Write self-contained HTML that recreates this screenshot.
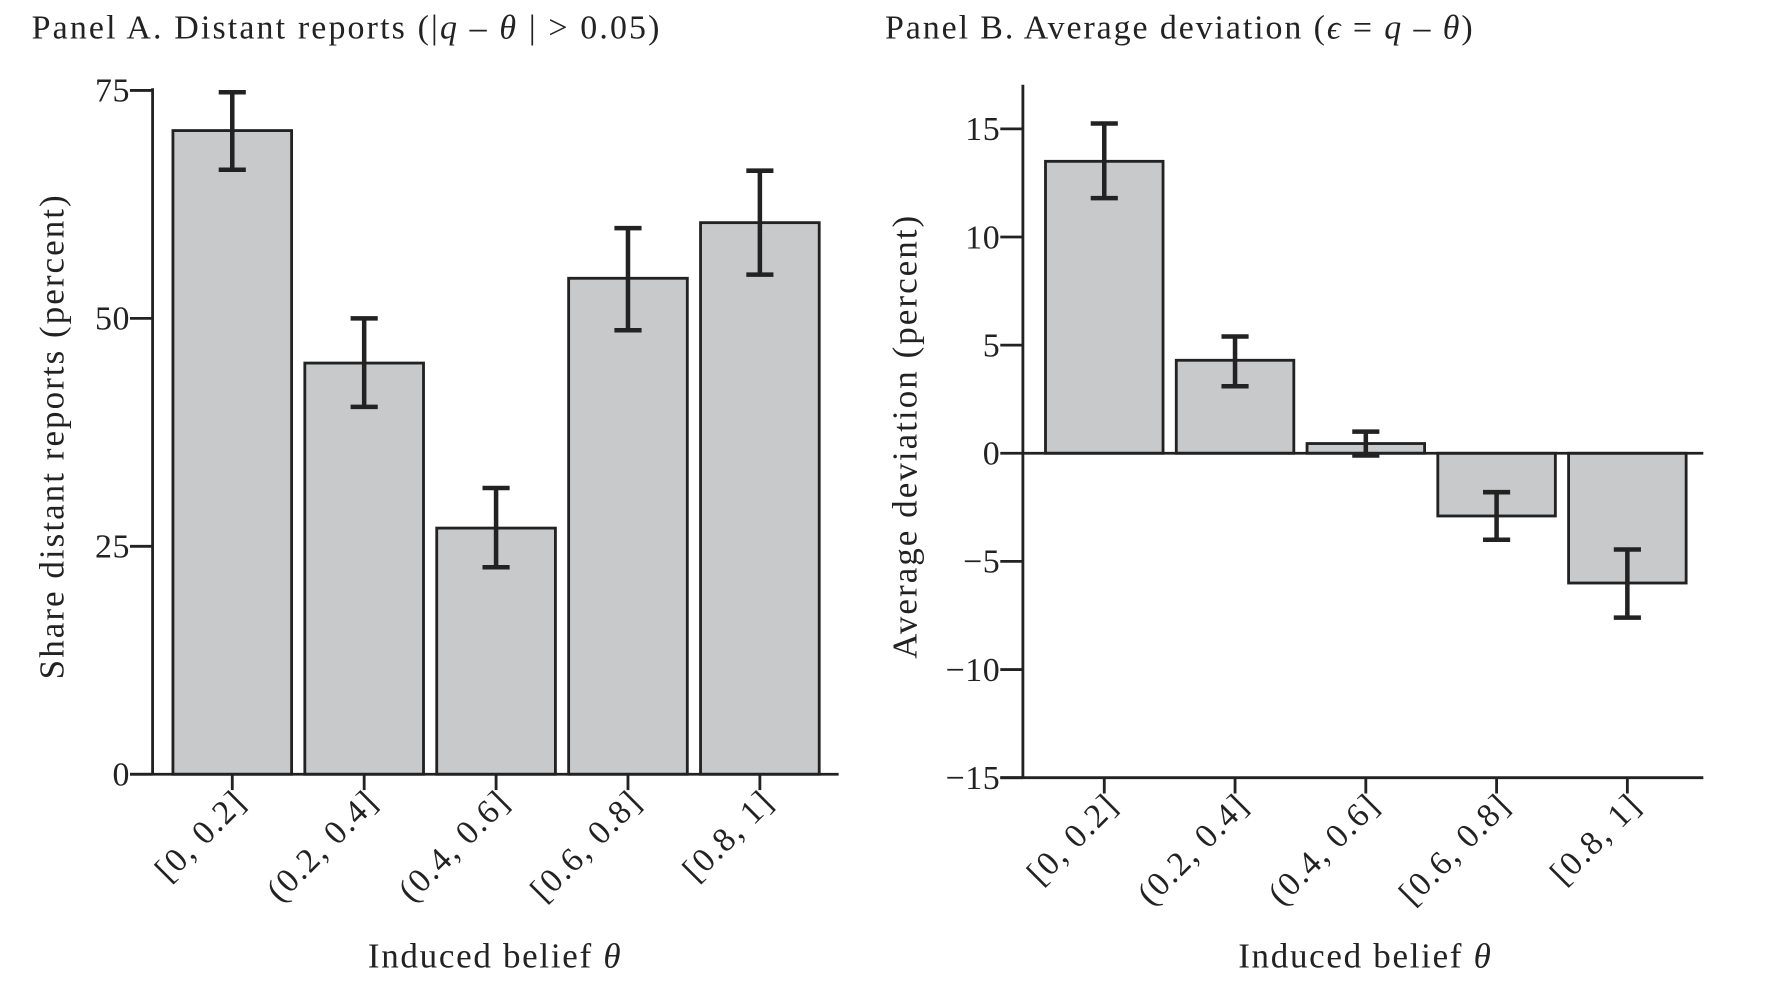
<!DOCTYPE html>
<html><head><meta charset="utf-8"><style>
html,body{margin:0;padding:0;background:#fff;}
svg{display:block;}
text{font-family:"Liberation Serif",serif;fill:#222;}
</style></head><body>
<svg id="chart" width="1770" height="1006" viewBox="0 0 1566 890" xmlns="http://www.w3.org/2000/svg">
<text x="28" y="34" font-size="30" letter-spacing="1.9">Panel A. Distant reports (|<tspan font-style="italic">q</tspan> – <tspan font-style="italic">θ</tspan> | &gt; 0.05)</text>
<text x="783" y="34" font-size="30" letter-spacing="1.7">Panel B. Average deviation (<tspan font-style="italic">ϵ</tspan> = <tspan font-style="italic">q</tspan> – <tspan font-style="italic">θ</tspan>)</text>
<text transform="translate(56,386) rotate(-90)" text-anchor="middle" font-size="31" letter-spacing="1.8">Share distant reports (percent)</text>
<text transform="translate(811,386) rotate(-90)" text-anchor="middle" font-size="31" letter-spacing="1.8">Average deviation (percent)</text>
<text x="438" y="856" text-anchor="middle" font-size="31" letter-spacing="1.5">Induced belief <tspan font-style="italic">θ</tspan></text>
<text x="1208" y="856" text-anchor="middle" font-size="31" letter-spacing="1.5">Induced belief <tspan font-style="italic">θ</tspan></text>
<g id="ga"></g><g id="gb"></g>
</svg>
<script>
const categories=["[0, 0.2]","(0.2, 0.4]","(0.4, 0.6]","[0.6, 0.8]","[0.8, 1]"];
const shareValues=[70.6,45.1,27.0,54.4,60.5];
const shareLow=[66.3,40.3,22.7,48.7,54.8];
const shareHigh=[74.8,50.0,31.4,59.9,66.2];
const devValues=[13.5,4.3,0.45,-2.9,-6.0];
const devLow=[11.8,3.1,-0.1,-4.0,-7.6];
const devHigh=[15.25,5.4,1.0,-1.8,-4.45];
const shareTicks=[0,25,50,75];
const devTicks=[-15,-10,-5,0,5,10,15];
const NS="http://www.w3.org/2000/svg";
function mk(g,tag,attrs){const e=document.createElementNS(NS,tag);for(const k in attrs)e.setAttribute(k,attrs[k]);g.appendChild(e);return e;}
function panel(g,p,vals,lo,hi,ticks,pre){
  const y=v=>p.y0+(v-p.vmin)/(p.vmax-p.vmin)*(p.y1-p.y0);
  const bx=i=>p.bar0+i*p.step;
  vals.forEach((v,i)=>{
    const r=mk(g,'rect',{x:bx(i),y:Math.min(y(v),y(0)),width:p.bw,height:Math.abs(y(v)-y(0)),fill:'#c8c9cb',stroke:'#222','stroke-width':2.5});
    
    
    const cx=bx(i)+p.bw/2;
    const eb=mk(g,'path',{d:`M${cx} ${y(lo[i])}V${y(hi[i])}M${cx-12} ${y(lo[i])}H${cx+12}M${cx-12} ${y(hi[i])}H${cx+12}`,stroke:'#222','stroke-width':4,fill:'none'});
    
    
    const tk=mk(g,'line',{x1:cx,x2:cx,y1:p.xaxisY,y2:p.xaxisY+14,stroke:'#222','stroke-width':2.5});
    
    
    const t=mk(g,'text',{transform:`translate(${cx+14},${p.xaxisY+26}) rotate(-45)`,'text-anchor':'end','font-size':30,'letter-spacing':1.5});
    t.textContent=categories[i];
    
    
  });
  ticks.forEach(v=>{
    const l=mk(g,'line',{x1:p.ax-20,x2:p.ax,y1:y(v),y2:y(v),stroke:'#222','stroke-width':2.5});
    
    
    const t=mk(g,'text',{x:p.ax-20,y:y(v)+10,'text-anchor':'end','font-size':30,'letter-spacing':0.5});
    t.textContent=v<0?'−'+Math.abs(v):String(v);
    
    
  });
  const ya=mk(g,'line',{x1:p.ax,x2:p.ax,y1:p.yTop,y2:p.xaxisY+1,stroke:'#222','stroke-width':2.5});
  
  
  const xa=mk(g,'line',{x1:p.xaxisX0,x2:p.xaxisX1,y1:p.xaxisY,y2:p.xaxisY,stroke:'#222','stroke-width':2.5});
  
  
  if(p.zeroLine){
    const z=mk(g,'line',{x1:p.ax,x2:p.xaxisX1,y1:y(0),y2:y(0),stroke:'#222','stroke-width':2.5});
    
    
  }
}
panel(document.getElementById('ga'),{y0:685,y1:80,vmin:0,vmax:75,bar0:153,step:116.7,bw:105,ax:135,yTop:78,xaxisY:685,xaxisX0:115,xaxisX1:742},shareValues,shareLow,shareHigh,shareTicks,'panel-a');
panel(document.getElementById('gb'),{y0:688,y1:114,vmin:-15,vmax:15,bar0:925,step:115.7,bw:104,ax:905,yTop:75,xaxisY:688,xaxisX0:885,xaxisX1:1507,zeroLine:true},devValues,devLow,devHigh,devTicks,'panel-b');
</script>
</body></html>
